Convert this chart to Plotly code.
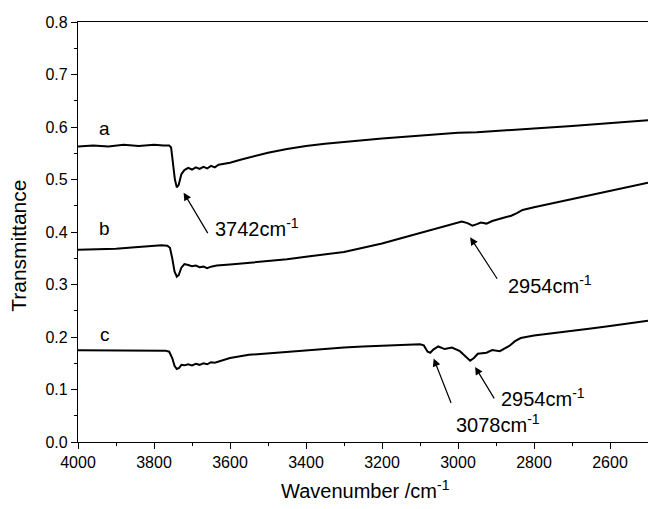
import plotly.graph_objects as go

# Curve a
wn_a = [4000, 3960, 3920, 3880, 3840, 3800, 3775, 3760, 3755, 3750, 3745, 3740, 3735, 3728, 3720,
        3710, 3700, 3690, 3680, 3670, 3660, 3650, 3640, 3630, 3600, 3570, 3540, 3500, 3450, 3400,
        3350, 3300, 3250, 3200, 3150, 3100, 3050, 3000, 2950, 2900, 2850, 2800, 2700, 2600, 2500]
t_a = [0.563, 0.565, 0.563, 0.566, 0.564, 0.566, 0.565, 0.565, 0.561, 0.530, 0.500, 0.485, 0.490, 0.510, 0.518,
       0.522, 0.519, 0.523, 0.520, 0.524, 0.521, 0.526, 0.523, 0.528, 0.532, 0.538, 0.544, 0.551, 0.558, 0.564,
       0.568, 0.572, 0.575, 0.578, 0.581, 0.584, 0.586, 0.589, 0.590, 0.592, 0.594, 0.597, 0.602, 0.607, 0.613]

# Curve b
wn_b = [4000, 3950, 3900, 3850, 3800, 3780, 3765, 3758, 3752, 3746, 3740, 3735, 3728, 3720, 3710,
        3700, 3690, 3680, 3670, 3660, 3650, 3635, 3600, 3550, 3500, 3450, 3400, 3350, 3300, 3250,
        3200, 3150, 3100, 3050, 3000, 2990, 2975, 2962, 2950, 2940, 2925, 2910, 2880, 2860, 2845,
        2830, 2800, 2750, 2700, 2650, 2600, 2550, 2500]
t_b = [0.366, 0.367, 0.368, 0.371, 0.374, 0.375, 0.374, 0.370, 0.350, 0.325, 0.315, 0.318, 0.332, 0.339, 0.337,
       0.335, 0.336, 0.333, 0.334, 0.331, 0.334, 0.336, 0.338, 0.341, 0.344, 0.348, 0.353, 0.358, 0.362, 0.370,
       0.378, 0.388, 0.398, 0.408, 0.418, 0.420, 0.417, 0.412, 0.415, 0.418, 0.416, 0.421, 0.427, 0.431, 0.436,
       0.442, 0.447, 0.455, 0.463, 0.471, 0.479, 0.486, 0.494]

# Curve c
wn_c = [4000, 3950, 3900, 3850, 3800, 3770, 3760, 3752, 3746, 3740, 3734, 3728, 3720, 3710, 3700,
        3690, 3680, 3670, 3660, 3650, 3640, 3620, 3600, 3550, 3500, 3450, 3400, 3350, 3300, 3250,
        3200, 3150, 3100, 3090, 3080, 3073, 3065, 3052, 3035, 3016, 2995, 2980, 2968, 2958, 2948,
        2925, 2910, 2890, 2865, 2850, 2835, 2800, 2750, 2700, 2650, 2600, 2550, 2500]
t_c = [0.175, 0.175, 0.174, 0.175, 0.174, 0.174, 0.172, 0.160, 0.145, 0.139, 0.141, 0.147, 0.146, 0.148, 0.146,
       0.149, 0.147, 0.150, 0.148, 0.152, 0.151, 0.156, 0.160, 0.166, 0.169, 0.172, 0.175, 0.178, 0.180, 0.182,
       0.183, 0.185, 0.186, 0.184, 0.172, 0.170, 0.176, 0.182, 0.177, 0.180, 0.173, 0.163, 0.155, 0.160, 0.168,
       0.170, 0.175, 0.173, 0.183, 0.192, 0.198, 0.203, 0.207, 0.211, 0.216, 0.221, 0.226, 0.231]

curve_labels = ["a", "b", "c"]
label_wn = [3930, 3930, 3930]
label_t = [0.597, 0.406, 0.205]

# peak annotations: text, arrow head (wn, T), arrow tail offset (px), text position (wn, T)
peak_text = ["3742cm<sup>-1</sup>", "2954cm<sup>-1</sup>", "2954cm<sup>-1</sup>", "3078cm<sup>-1</sup>"]
head_wn = [3722, 2968, 2955, 3064]
head_t = [0.475, 0.390, 0.143, 0.159]
tail_dx = [25, 28, 20, 18]
tail_dy = [42, 43, 33, 46]
text_wn = [3528, 2758, 2776, 2894]
text_t = [0.408, 0.300, 0.084, 0.036]

FONT = "Liberation Sans, Arial, sans-serif"

fig = go.Figure()
for wn, t in [(wn_a, t_a), (wn_b, t_b), (wn_c, t_c)]:
    fig.add_trace(go.Scatter(x=wn, y=t, mode="lines", line=dict(color="black", width=2), showlegend=False))

ann = []
for lab, x, y in zip(curve_labels, label_wn, label_t):
    ann.append(dict(x=x, y=y, text=lab, showarrow=False, font=dict(size=19, color="black")))
for txt, hx, hy, dx, dy, tx, ty in zip(peak_text, head_wn, head_t, tail_dx, tail_dy, text_wn, text_t):
    ann.append(dict(x=hx, y=hy, ax=dx, ay=dy, text="", showarrow=True, arrowhead=2, arrowsize=1.3,
                    arrowwidth=1.2, arrowcolor="black", standoff=0, startstandoff=0))
    ann.append(dict(x=tx, y=ty, text=txt, showarrow=False, font=dict(size=20, color="black"),
                    xanchor="center", yanchor="middle"))

ann.append(dict(x=0.504, y=-0.114, xref="paper", yref="paper", text="Wavenumber /cm<sup>-1</sup>",
                showarrow=False, font=dict(size=20, color="black"), xanchor="center", yanchor="middle"))
ann.append(dict(x=-0.105, y=0.4675, xref="paper", yref="paper", text="Transmittance", textangle=-90,
                showarrow=False, font=dict(size=21, color="black"), xanchor="center", yanchor="middle"))

fig.update_layout(
    width=648, height=509,
    margin=dict(l=77.5, r=0, t=22, b=67),
    paper_bgcolor="white", plot_bgcolor="white",
    font=dict(family=FONT, color="black", size=16),
    annotations=ann,
)
fig.update_xaxes(range=[4000, 2500], dtick=200, tick0=4000, showgrid=False, zeroline=False,
                 showline=True, linecolor="black", linewidth=1.3, mirror=True,
                 ticks="outside", ticklen=6, tickwidth=1.2, tickcolor="black",
                 minor=dict(dtick=100, ticks="outside", ticklen=3, tickwidth=1, tickcolor="black"),
                 tickfont=dict(size=16))
fig.update_yaxes(range=[0, 0.8], dtick=0.1, tick0=0, tickformat=".1f", showgrid=False, zeroline=False,
                 showline=True, linecolor="black", linewidth=1.3, mirror=False,
                 ticks="outside", ticklen=6, tickwidth=1.2, tickcolor="black",
                 minor=dict(dtick=0.05, ticks="outside", ticklen=3, tickwidth=1, tickcolor="black"),
                 tickfont=dict(size=16))

fig.write_html("out.html")
